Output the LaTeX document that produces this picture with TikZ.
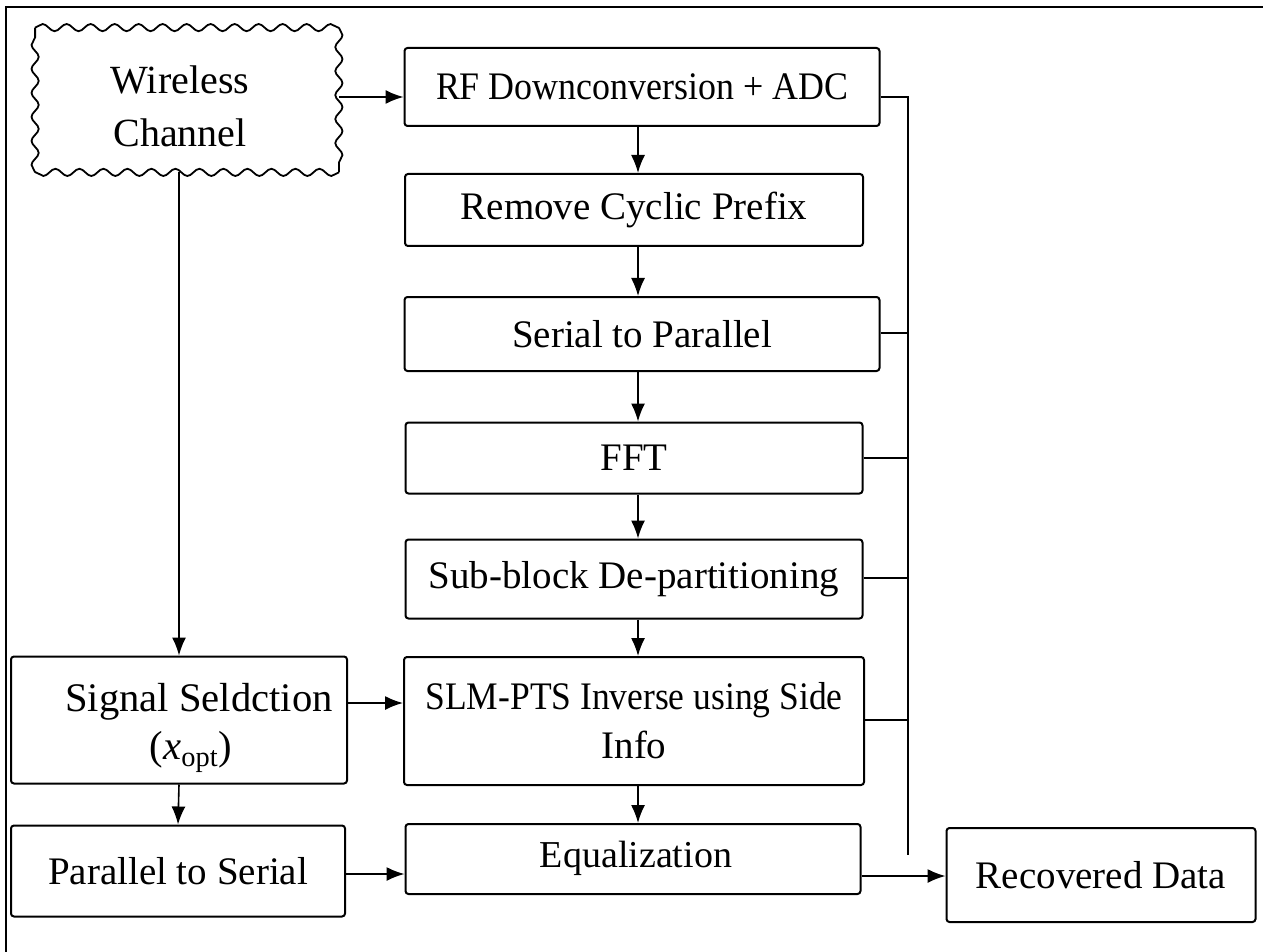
\documentclass[tikz,border=0pt]{standalone}
\usepackage{fontspec}
\setmainfont{Liberation Serif}
\usetikzlibrary{arrows.meta,decorations.pathmorphing}
\begin{document}
\begin{tikzpicture}[x=0.5pt,y=-0.5pt,
  font=\fontsize{19.5}{24.5}\selectfont,
  box/.style={draw, line width=1pt, rounded corners=1.5pt, align=center, inner sep=0pt},
  wavy/.style={line width=0.9pt, decorate, decoration={snake, segment length=12pt, amplitude=1.8pt}},
  arr/.style={line width=0.8pt, -{Latex[length=9pt,width=7pt]}},
  ln/.style={line width=0.8pt}]
\useasboundingbox (0,0) rectangle (1263,952);
\draw[line width=1pt] (6,952) -- (6,7) -- (1263,7);

\node[minimum width=151.5pt, minimum height=72pt, inner sep=0pt] (wc) at (187,100) {};
\draw[wavy] (wc.north west) -- (wc.north east);
\draw[wavy] (wc.north east) -- (wc.south east);
\draw[wavy] (wc.south east) -- (wc.south west);
\draw[wavy] (wc.south west) -- (wc.north west);
\node[align=center, font=\fontsize{20}{26.5}\selectfont] (wct) at (180,106) {Wireless\\Channel};

\node[box, minimum width=237.5pt, minimum height=39pt] (rf) at (642,87) {\scalebox{0.92}[1]{RF Downconversion + ADC}};
\node[box, minimum width=229pt, minimum height=36pt] (rcp) at (634,210) {Remove Cyclic Prefix};
\node[box, minimum width=237.5pt, minimum height=37pt] (s2p) at (642,334) {Serial to Parallel};
\node[box, minimum width=228.5pt, minimum height=35.5pt] (fft) at (634,458) {FFT};
\node[box, minimum width=228.5pt, minimum height=39.5pt] (sub) at (634,579) {Sub-block De-partitioning};
\node[box, minimum width=230pt, minimum height=64pt] (slm) at (634,721) {\scalebox{0.91}[1]{SLM-PTS Inverse using Side}\\Info};
\node[box, minimum width=227.5pt, minimum height=35pt] (eq) at (633,859) {};
\node[font=\fontsize{19}{24}\selectfont] (eqt) at (636,858) {Equalization};

\node[box, minimum width=168pt, minimum height=63.5pt] (sig) at (179,720) {};
\node[align=center, font=\fontsize{20.3}{25}\selectfont] (sigt) at (199,728) {Signal Seldction\\[-1pt]\hspace*{-8pt}(\textit{x}\textsubscript{opt})};
\node[box, minimum width=167pt, minimum height=45.5pt] (p2s) at (178,871) {Parallel to Serial};
\node[box, minimum width=154.5pt, minimum height=47pt] (rec) at (1101,875) {Recovered Data};

\coordinate (cx) at (638,0);
\coordinate (bus) at (908,0);
\coordinate (busend) at (908,855);

\draw[arr] (wc.east |- 0,97) -- (rf.west |- 0,97);
\draw[arr] (rf.south -| cx) -- (rcp.north -| cx);
\draw[arr] (rcp.south -| cx) -- (s2p.north -| cx);
\draw[arr] (s2p.south -| cx) -- (fft.north -| cx);
\draw[arr] (fft.south -| cx) -- (sub.north -| cx);
\draw[arr] (sub.south -| cx) -- (slm.north -| cx);
\draw[arr] (slm.south -| cx) -- (eq.north -| cx);

\draw[ln] (rf.east |- 0,97) -| (busend);
\draw[ln] (s2p.east |- 0,333) -- (bus |- 0,333);
\draw[ln] (fft.east |- 0,458) -- (bus |- 0,458);
\draw[ln] (sub.east |- 0,578) -- (bus |- 0,578);
\draw[ln] (slm.east |- 0,720) -- (bus |- 0,720);

\draw[arr] (wc.south -| sig.north) -- (sig.north);
\draw[arr] (sig.east |- 0,703) -- (slm.west |- 0,703);
\draw[arr] (sig.south) -- (p2s.north);
\draw[arr] (p2s.east |- 0,874) -- (eq.west |- 0,874);
\draw[arr] (eq.east |- 0,876) -- (rec.west |- 0,876);
\end{tikzpicture}
\end{document}
